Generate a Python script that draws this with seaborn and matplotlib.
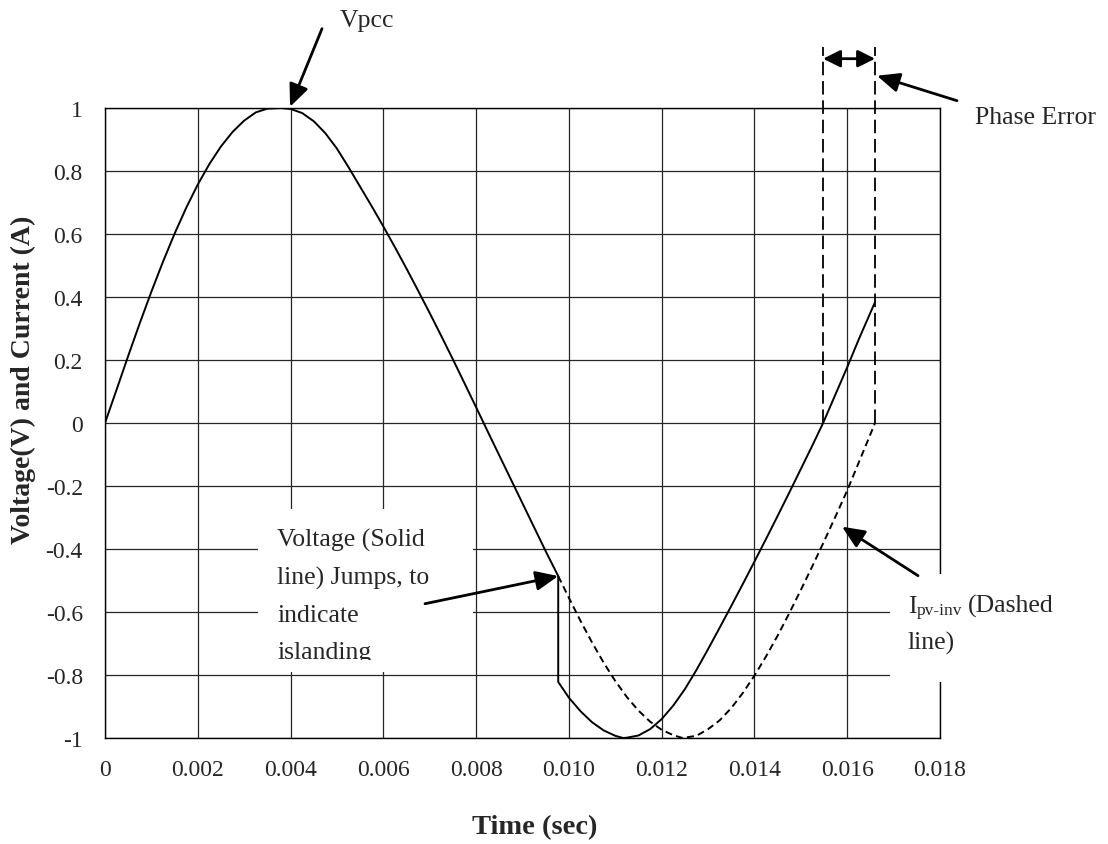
import matplotlib
matplotlib.use("Agg")
import matplotlib.pyplot as plt
import seaborn as sns
from matplotlib.patches import Rectangle
from matplotlib.transforms import Bbox, TransformedBbox

# ---- axis ticks ----
time_ticks = [0, 0.002, 0.004, 0.006, 0.008, 0.010, 0.012, 0.014, 0.016, 0.018]
time_tick_labels = ["0", "0.002", "0.004", "0.006", "0.008", "0.010",
                    "0.012", "0.014", "0.016", "0.018"]
amp_ticks = [1, 0.8, 0.6, 0.4, 0.2, 0, -0.2, -0.4, -0.6, -0.8, -1]
amp_tick_labels = ["1", "0.8", "0.6", "0.4", "0.2", "0",
                   "-0.2", "-0.4", "-0.6", "-0.8", "-1"]

# ---- PCC voltage (solid): grid-tied waveform, then jump at islanding ----
vpcc_t = [0.0, 0.00025, 0.0005, 0.00075, 0.0010, 0.00125, 0.0015, 0.00175,
          0.0020, 0.00225, 0.0025, 0.00275, 0.0030, 0.00325, 0.0035, 0.0038,
          0.0040, 0.00425, 0.0045, 0.00475, 0.0050, 0.00525, 0.0055, 0.00575,
          0.0060, 0.00625, 0.0065, 0.00675, 0.0070, 0.00725, 0.0075, 0.00775,
          0.0080, 0.00825, 0.0085, 0.00875, 0.0090, 0.00925, 0.0095, 0.00977,
          # jump, then the islanded waveform
          0.00977, 0.0100, 0.01025, 0.0105, 0.01075, 0.0110, 0.01117, 0.01125,
          0.0115, 0.01175, 0.0120, 0.01225, 0.0125, 0.01275, 0.0130, 0.01325,
          0.0135, 0.01375, 0.0140, 0.01425, 0.0145, 0.01475, 0.0150, 0.01525,
          0.01548, 0.01575, 0.0160, 0.01625, 0.0166]
vpcc_v = [0.0, 0.106, 0.213, 0.317, 0.417, 0.512, 0.601, 0.683,
          0.757, 0.822, 0.878, 0.924, 0.960, 0.986, 0.998, 1.0,
          0.997, 0.984, 0.958, 0.920, 0.871, 0.812, 0.750, 0.688,
          0.624, 0.558, 0.490, 0.420, 0.349, 0.276, 0.202, 0.126,
          0.050, -0.027, -0.103, -0.179, -0.255, -0.331, -0.407, -0.486,
          -0.822, -0.872, -0.915, -0.950, -0.976, -0.993, -1.0, -0.999,
          -0.992, -0.972, -0.940, -0.897, -0.845, -0.784, -0.718, -0.650,
          -0.581, -0.511, -0.440, -0.368, -0.295, -0.221, -0.146, -0.071,
          0.0, 0.092, 0.177, 0.266, 0.384]

# ---- inverter current (dashed) after the islanding instant ----
ipv_t = [0.00977, 0.0100, 0.01025, 0.0105, 0.01075, 0.0110, 0.01125, 0.0115,
         0.01175, 0.0120, 0.01225, 0.01245, 0.01275, 0.0130, 0.01325, 0.0135,
         0.01375, 0.0140, 0.01425, 0.0145, 0.01475, 0.0150, 0.01525, 0.0155,
         0.01575, 0.0160, 0.01625, 0.0166]
ipv_v = [-0.486, -0.555, -0.628, -0.697, -0.761, -0.819, -0.870, -0.913,
         -0.948, -0.974, -0.991, -1.0, -0.993, -0.972, -0.944, -0.905,
         -0.857, -0.802, -0.741, -0.675, -0.604, -0.530, -0.454, -0.376,
         -0.296, -0.214, -0.125, 0.0]

# events
t_island, v_before_jump = 0.00977, -0.486
t_v_zero = 0.01548      # voltage zero crossing
t_i_zero = 0.0166       # current zero crossing

sns.set_style("white")
plt.rcParams["font.family"] = ["Liberation Serif", "DejaVu Serif"]
plt.rcParams["axes.unicode_minus"] = False

fig = plt.figure(figsize=(11.08, 8.45), dpi=100)
ax = fig.add_axes([105 / 1108, 1 - 739 / 845, 835 / 1108, 630 / 845])

sns.lineplot(x=vpcc_t, y=vpcc_v, ax=ax, color="black", lw=1.4,
             estimator=None, sort=False, zorder=4)
sns.lineplot(x=ipv_t, y=ipv_v, ax=ax, color="black", lw=1.4,
             linestyle=(0, (3.6, 2.2)), estimator=None, sort=False, zorder=4)

ax.set_xlim(0, 0.018)
ax.set_ylim(-1, 1)
ax.set_xticks(time_ticks)
ax.set_xticklabels(time_tick_labels, fontsize=17)
ax.set_yticks(amp_ticks)
ax.set_yticklabels(amp_tick_labels, fontsize=17)
ax.tick_params(axis="x", length=0, pad=15)
ax.tick_params(axis="y", length=0, pad=16)
ax.set_axisbelow(True)
ax.grid(True, color="#262626", lw=0.9)
for sp in ax.spines.values():
    sp.set_color("black")
    sp.set_linewidth(1.0)
    sp.set_zorder(0.6)

ax.set_xlabel("Time (sec)", fontsize=20.5, fontweight="bold", va="center")
ax.xaxis.set_label_coords(0.514, -0.1413)
ax.set_ylabel("Voltage(V) and Current (A)", fontsize=20, fontweight="bold",
              va="center")
ax.yaxis.set_label_coords(-0.098, 0.57)

arrow_kw = dict(arrowstyle="-|>,head_length=0.8,head_width=0.35",
                color="black", lw=2.0, mutation_scale=17,
                shrinkA=0, shrinkB=0)
fs = 18.5

# Vpcc label
ax.text(0.005066, 1.2613, "Vpcc", fontsize=fs, va="baseline", ha="left")
ax.annotate("", xy=(0.00399, 1.004), xytext=(0.004678, 1.2517),
            arrowprops=arrow_kw, annotation_clip=False)

# Phase error markers
dash_kw = dict(color="black", lw=1.3, linestyle=(0, (7.5, 3.2)),
               clip_on=False, zorder=4)
ax.plot([t_v_zero, t_v_zero], [0, 1.1946], **dash_kw)
ax.plot([t_i_zero, t_i_zero], [0, 1.1946], **dash_kw)
ax.annotate("", xy=(t_v_zero, 1.1565), xytext=(t_i_zero, 1.1565),
            arrowprops=dict(arrowstyle="<|-|>,head_length=0.8,head_width=0.4",
                            color="black", lw=2.0, mutation_scale=13,
                            shrinkA=0, shrinkB=0),
            annotation_clip=False)
ax.text(0.018755, 0.9533, "Phase Error", fontsize=fs, va="baseline", ha="left")
ax.annotate("", xy=(0.016642, 1.1025), xytext=(0.018366, 1.0232),
            arrowprops=arrow_kw, annotation_clip=False)

# Islanding note with its white text box
ax.add_patch(Rectangle((0.003298, -0.7895), 0.007933 - 0.003298,
                       0.7895 - 0.2721, fc="white", ec="none", zorder=3))
note_clip = TransformedBbox(Bbox([[0.003298, -0.7514], [0.007933, -0.2721]]),
                            ax.transData)
for line, yb in zip(["Voltage (Solid", "line) Jumps, to", "indicate", "islanding"],
                    [-0.3895, -0.5102, -0.6276, -0.7451]):
    t = ax.text(0.003708, yb, line, fontsize=fs, va="baseline", ha="left",
                zorder=5)
    t.set_clip_box(note_clip)
    t.set_clip_on(True)
ax.annotate("", xy=(t_island, v_before_jump), xytext=(0.006898, -0.5737),
            arrowprops=arrow_kw, annotation_clip=False, zorder=6)

# Inverter current note with its white text box
ax.add_patch(Rectangle((0.016922, -0.8213), 0.020695 - 0.016922,
                       0.8213 - 0.4784, fc="white", ec="none", zorder=3,
                       clip_on=False))
ax.text(0.01731, -0.5990, "I", fontsize=fs, va="baseline", ha="left", zorder=5)
ax.text(0.017504, -0.6054, "pv-inv", fontsize=12.5, va="baseline", ha="left",
        zorder=5)
ax.text(0.018604, -0.5990, "(Dashed", fontsize=fs, va="baseline", ha="left",
        zorder=5)
ax.text(0.01731, -0.7165, "line)", fontsize=fs, va="baseline", ha="left",
        zorder=5)
ax.annotate("", xy=(0.015888, -0.3292), xytext=(0.017526, -0.4848),
            arrowprops=arrow_kw, annotation_clip=False, zorder=6)

fig.savefig("out.png", dpi=100)
